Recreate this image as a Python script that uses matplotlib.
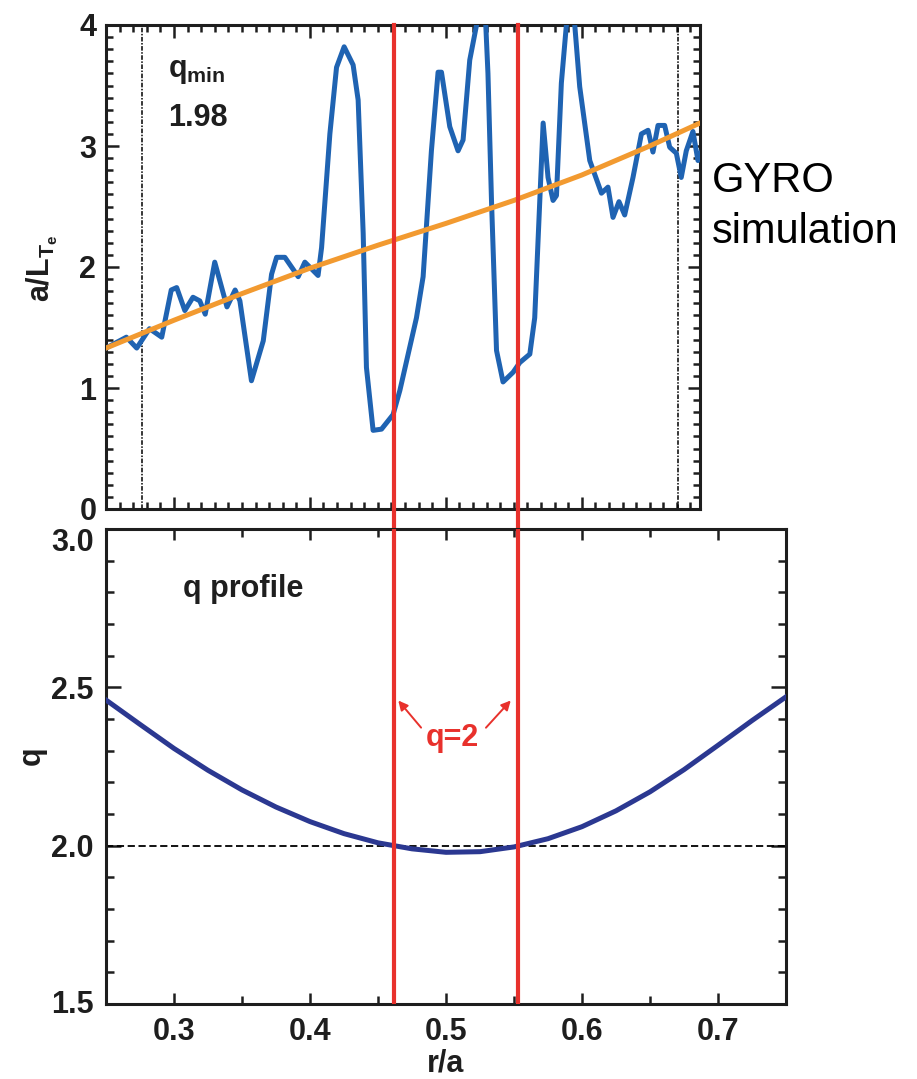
import matplotlib
matplotlib.use("Agg")
import matplotlib.pyplot as plt
import matplotlib.transforms as mtransforms
from matplotlib.ticker import MultipleLocator
from matplotlib import font_manager

# fonts: narrow helvetica-like for the plot, plain sans for the side note
avail = {f.name for f in font_manager.fontManager.ttflist}
narrow = 'Liberation Sans Narrow' if 'Liberation Sans Narrow' in avail else 'Liberation Sans'
plt.rcParams['font.family'] = [narrow, 'DejaVu Sans']
plt.rcParams['font.weight'] = 'bold'
plt.rcParams['mathtext.fontset'] = 'custom'
plt.rcParams['mathtext.rm'] = narrow + ':bold'
plt.rcParams['mathtext.it'] = narrow + ':bold'

# top panel: a/L_Te from GYRO vs r/a
r_te = [0.250, 0.265, 0.2726, 0.282, 0.291, 0.298, 0.302, 0.308, 0.314, 0.319,
        0.323, 0.330, 0.339, 0.345, 0.3485, 0.357, 0.3657, 0.3718, 0.3755, 0.3816,
        0.3914, 0.3963, 0.406, 0.4086, 0.4147, 0.4196, 0.4252, 0.4318, 0.4355, 0.4392,
        0.4416, 0.4465, 0.4527, 0.4612, 0.4662, 0.4784, 0.4833, 0.4894, 0.4943, 0.4968,
        0.5029, 0.509, 0.5127, 0.5176, 0.5226, 0.5260, 0.5290, 0.5310, 0.5336, 0.5373,
        0.5421, 0.5495, 0.5544, 0.5618, 0.5654, 0.5716, 0.5752, 0.5789, 0.5814, 0.585,
        0.5887, 0.5915, 0.5945, 0.5985, 0.6059, 0.6145, 0.6193, 0.623, 0.6274, 0.6316,
        0.6377, 0.6439, 0.6488, 0.6524, 0.6561, 0.661, 0.6647, 0.6696, 0.6732, 0.6769,
        0.6818, 0.6855, 0.688]
a_te = [1.33, 1.42, 1.33, 1.49, 1.42, 1.81, 1.83, 1.64, 1.75, 1.72,
        1.61, 2.04, 1.67, 1.81, 1.72, 1.06, 1.39, 1.94, 2.08, 2.08,
        1.92, 2.04, 1.93, 2.16, 3.10, 3.65, 3.82, 3.67, 3.38, 2.28,
        1.17, 0.65, 0.66, 0.78, 0.98, 1.58, 1.92, 2.96, 3.61, 3.61,
        3.16, 2.96, 3.05, 3.71, 4.00, 4.25, 4.10, 3.60, 2.55, 1.31,
        1.05, 1.13, 1.21, 1.28, 1.58, 3.19, 2.74, 2.55, 2.59, 3.52,
        4.00, 4.20, 4.05, 3.49, 2.88, 2.61, 2.66, 2.41, 2.54, 2.43,
        2.74, 3.10, 3.13, 2.95, 3.17, 3.17, 2.99, 2.94, 2.74, 2.96,
        3.12, 2.88, 2.95]

# smooth experimental fit (orange)
r_fit = [0.25, 0.30, 0.35, 0.40, 0.45, 0.50, 0.55, 0.60, 0.65, 0.687]
a_fit = [1.33, 1.56, 1.78, 1.99, 2.18, 2.36, 2.55, 2.76, 3.00, 3.19]

# bottom panel: q profile
r_q = [0.25, 0.275, 0.30, 0.325, 0.35, 0.375, 0.40, 0.425, 0.45, 0.475, 0.50,
       0.525, 0.55, 0.575, 0.60, 0.625, 0.65, 0.675, 0.70, 0.725, 0.75]
q = [2.46, 2.383, 2.307, 2.238, 2.176, 2.122, 2.076, 2.038, 2.009, 1.990, 1.979,
     1.981, 1.996, 2.022, 2.060, 2.110, 2.170, 2.240, 2.317, 2.395, 2.47]

r_q2 = [0.462, 0.553]     # q = 2 surfaces
r_box = [0.2765, 0.671]   # simulation box edges

blue = '#1f63b2'
orange = '#f29a30'
red = '#e8312c'
navy = '#2b3891'
ink = '#1e1e1e'
fs = 22

fig = plt.figure(figsize=(9.17, 10.79), dpi=100)
ax1 = fig.add_axes([106/917, 1-509/1079, 594/917, 484/1079])
ax2 = fig.add_axes([106/917, 1-1004/1079, 680/917, 475/1079])

for ax in (ax1, ax2):
    for s in ax.spines.values():
        s.set_linewidth(2.2)
        s.set_color(ink)
    ax.tick_params(which='both', direction='in', top=True, right=True,
                   width=1.8, color=ink, labelsize=fs, labelcolor=ink)

# ---- top
ax1.plot(r_te, a_te, color=blue, lw=3.6, zorder=3, solid_joinstyle='round')
ax1.plot(r_fit, a_fit, color=orange, lw=3.6, zorder=4)
for xb in r_box:
    ax1.axvline(xb, color='black', lw=1.1, ls=(0, (3, 1, 1, 1)), zorder=2)
for xr in r_q2:
    ax1.axvline(xr, ymin=-0.045, ymax=1, color=red, lw=3, zorder=5, clip_on=False)
ax1.set_xlim(0.25, 0.687)
ax1.set_ylim(0, 4)
ax1.xaxis.set_major_locator(MultipleLocator(0.1))
ax1.xaxis.set_minor_locator(MultipleLocator(0.01))
ax1.yaxis.set_major_locator(MultipleLocator(1))
ax1.yaxis.set_minor_locator(MultipleLocator(0.1))
ax1.tick_params(axis='x', labelbottom=False)
ax1.tick_params(which='major', length=9)
ax1.tick_params(which='minor', length=5)
ax1.tick_params(axis='y', pad=7)
ax1.set_yticks([0, 1, 2, 3, 4])
ax1.set_yticklabels(['0', '1', '2', '3', '4'])

ax1.text(0.2956, 3.62, r'q$_\mathrm{min}$', fontsize=fs, color=ink, va='center', ha='left')
ax1.text(0.2956, 3.23, '1.98', fontsize=fs, color=ink, va='center', ha='left')

# ---- bottom
ax2.axhline(2.0, color='black', lw=1.3, ls=(0, (4, 2)), zorder=2)
ax2.plot(r_q, q, color=navy, lw=3.6, zorder=3, solid_joinstyle='round')
for xr in r_q2:
    ax2.axvline(xr, color=red, lw=3, zorder=5)
ax2.set_xlim(0.25, 0.75)
ax2.set_ylim(1.5, 3.0)
ax2.set_xticks([0.3, 0.4, 0.5, 0.6, 0.7])
ax2.set_xticklabels(['0.3', '0.4', '0.5', '0.6', '0.7'])
ax2.xaxis.set_minor_locator(MultipleLocator(0.05))
ax2.set_yticks([1.5, 2.0, 2.5, 3.0])
ax2.set_yticklabels(['1.5', '2.0', '2.5', '3.0'])
ax2.yaxis.set_minor_locator(MultipleLocator(0.1))
ax2.tick_params(axis='x', which='major', length=8, pad=9)
ax2.tick_params(axis='x', which='minor', length=6)
ax2.tick_params(axis='y', which='major', length=11, pad=9)
ax2.tick_params(axis='y', which='minor', length=6)

# end labels sit just inside the frame
ylabs = ax2.get_yticklabels()
ylabs[-1].set_transform(ylabs[-1].get_transform() +
                        mtransforms.ScaledTranslation(0, -10/100, fig.dpi_scale_trans))
ylabs[0].set_transform(ylabs[0].get_transform() +
                       mtransforms.ScaledTranslation(0, 3/100, fig.dpi_scale_trans))

ax2.text(0.3066, 2.81, 'q profile', fontsize=fs, color=ink, va='center', ha='left')
ax2.text(0.5044, 2.34, 'q=2', fontsize=fs, color=red, va='center', ha='center')
ax2.annotate('', xy=(0.4636, 2.465), xytext=(0.483, 2.366),
             arrowprops=dict(arrowstyle='-|>', color=red, lw=1.4, mutation_scale=14))
ax2.annotate('', xy=(0.549, 2.465), xytext=(0.528, 2.366),
             arrowprops=dict(arrowstyle='-|>', color=red, lw=1.4, mutation_scale=14))

# axis labels
fig.text(42/917, 1-268/1079, r'a/L$_{\mathrm{T}_{\mathrm{e}}}$', rotation=90,
         fontsize=fs, color=ink, ha='center', va='center')
fig.text(32/917, 1-756/1079, 'q', rotation=90, fontsize=fs, color=ink,
         ha='center', va='center')
fig.text(446/917, 1-1064/1079, 'r/a', fontsize=fs, color=ink, ha='center', va='center')

# side note
fig.text(712/917, 1-192/1079, 'GYRO', fontsize=30, family=['Liberation Sans', 'DejaVu Sans'],
         weight='normal', color='black', ha='left', va='baseline')
fig.text(712/917, 1-243/1079, 'simulation', fontsize=30, family=['Liberation Sans', 'DejaVu Sans'],
         weight='normal', color='black', ha='left', va='baseline')

fig.savefig('out.png', dpi=100)
